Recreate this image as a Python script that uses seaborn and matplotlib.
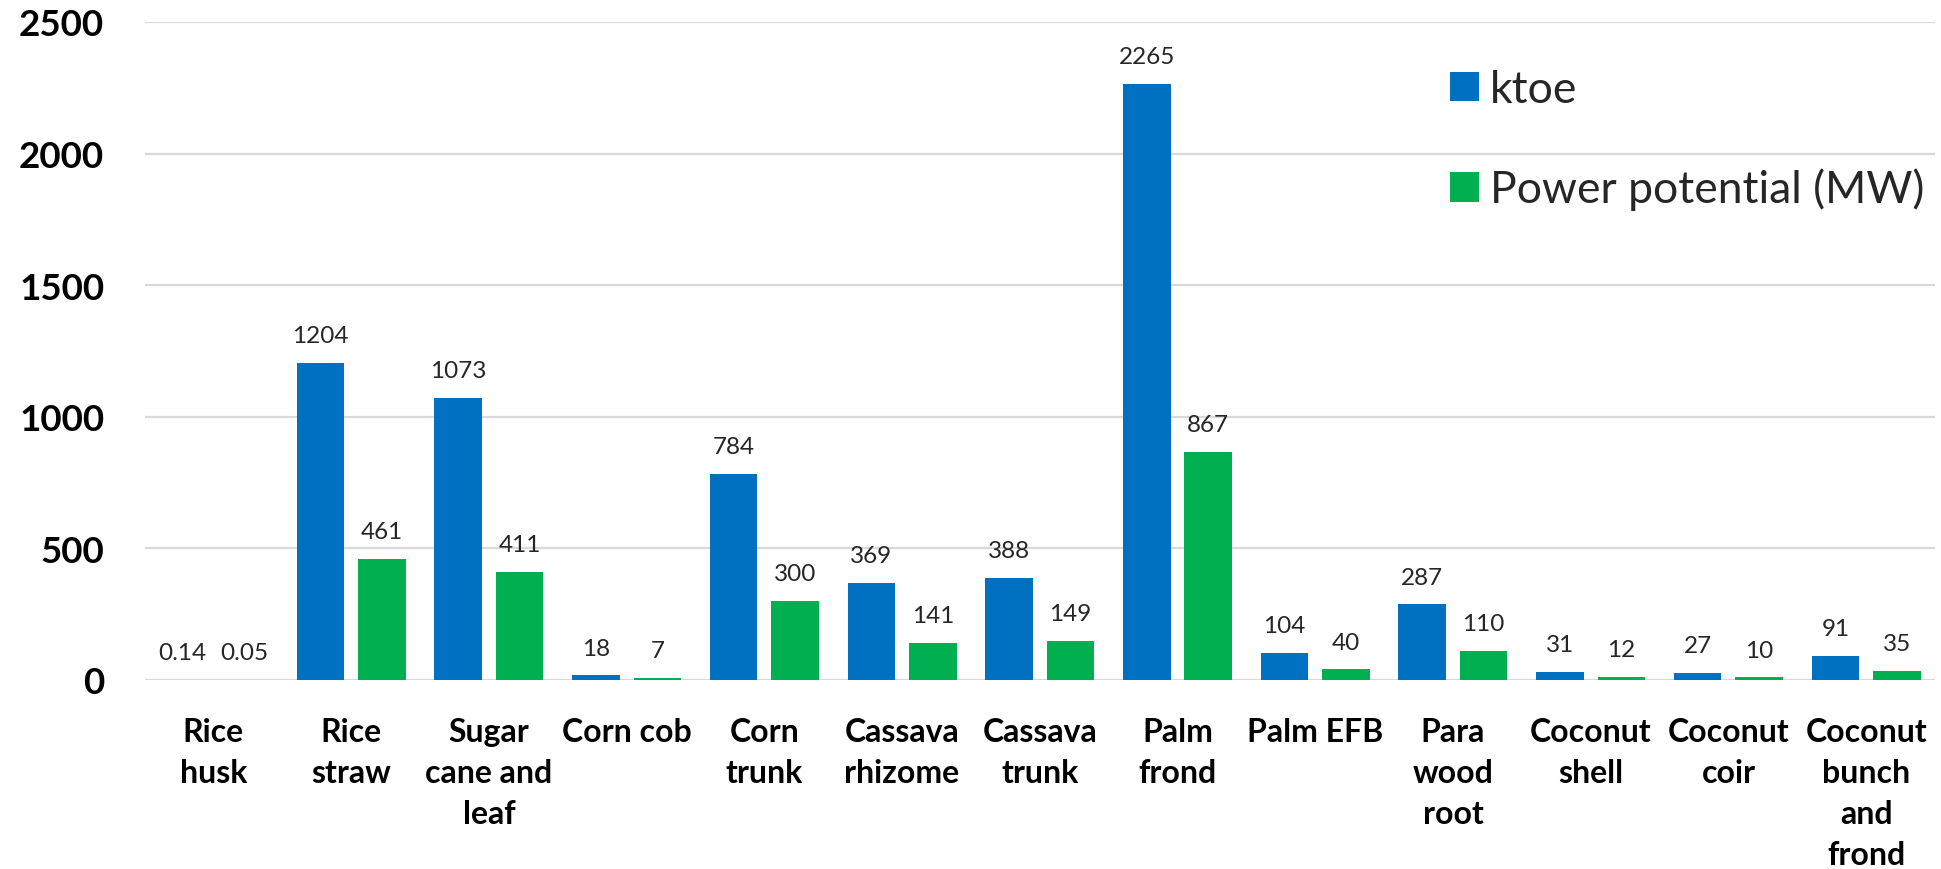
import matplotlib
matplotlib.use("Agg")
import matplotlib.pyplot as plt
import seaborn as sns
import pandas as pd

categories = ["Rice\nhusk", "Rice\nstraw", "Sugar\ncane and\nleaf", "Corn cob", "Corn\ntrunk",
              "Cassava\nrhizome", "Cassava\ntrunk", "Palm\nfrond", "Palm EFB", "Para\nwood\nroot",
              "Coconut\nshell", "Coconut\ncoir", "Coconut\nbunch\nand\nfrond"]
ktoe = [0.14, 1204, 1073, 18, 784, 369, 388, 2265, 104, 287, 31, 27, 91]
power_mw = [0.05, 461, 411, 7, 300, 141, 149, 867, 40, 110, 12, 10, 35]
ktoe_labels = ["0.14", "1204", "1073", "18", "784", "369", "388", "2265", "104", "287", "31", "27", "91"]
power_labels = ["0.05", "461", "411", "7", "300", "141", "149", "867", "40", "110", "12", "10", "35"]
series_names = ["ktoe", "Power potential (MW)"]
y_ticks = [0, 500, 1000, 1500, 2000, 2500]

sns.set_theme(style="white")
plt.rcParams["font.family"] = ["Lato", "DejaVu Sans"]

df = pd.DataFrame({
    "category": categories * 2,
    "value": ktoe + power_mw,
    "series": [series_names[0]] * len(categories) + [series_names[1]] * len(categories),
})

fig = plt.figure(figsize=(19.41, 8.70), dpi=100)
ax = fig.add_axes([144.5 / 1941, 1 - 681 / 870, (1935 - 144.5) / 1941, (681 - 23) / 870])

sns.barplot(data=df, x="category", y="value", hue="series", order=categories,
            hue_order=series_names, palette=["#0070C0", "#00B050"], saturation=1,
            width=0.893, gap=0.227, linewidth=0, ax=ax, errorbar=None)

for cont, labs in zip(ax.containers, [ktoe_labels, power_labels]):
    ax.bar_label(cont, labels=labs, padding=12, fontsize=17.5, color="#262626")

ax.set_ylim(0, 2500)
ax.set_xlim(-0.5, len(categories) - 0.5)
ax.set_yticks(y_ticks)
ax.set_yticklabels([str(t) for t in y_ticks], fontsize=26.5, fontweight="bold", color="black")
ax.tick_params(axis="y", length=0, pad=29)
ax.tick_params(axis="x", length=0, pad=27)
for lab in ax.get_xticklabels():
    lab.set_fontsize(23)
    lab.set_fontweight("bold")
    lab.set_color("black")
    lab.set_linespacing(1.5)
ax.set_xlabel("")
ax.set_ylabel("")
ax.grid(axis="y", color="#D9D9D9", linewidth=1.6)
ax.set_axisbelow(True)
for s in ax.spines.values():
    s.set_visible(False)

handles, labels = ax.get_legend_handles_labels()
ax.legend(handles, labels, loc="upper left", bbox_to_anchor=(1450 / 1941, 1 - 70 / 870),
          bbox_transform=fig.transFigure, frameon=False, fontsize=32, handlelength=0.65,
          handleheight=0.65, handletextpad=0.25, labelspacing=1.3, borderpad=0, borderaxespad=0)

fig.savefig("out.png", dpi=100)
